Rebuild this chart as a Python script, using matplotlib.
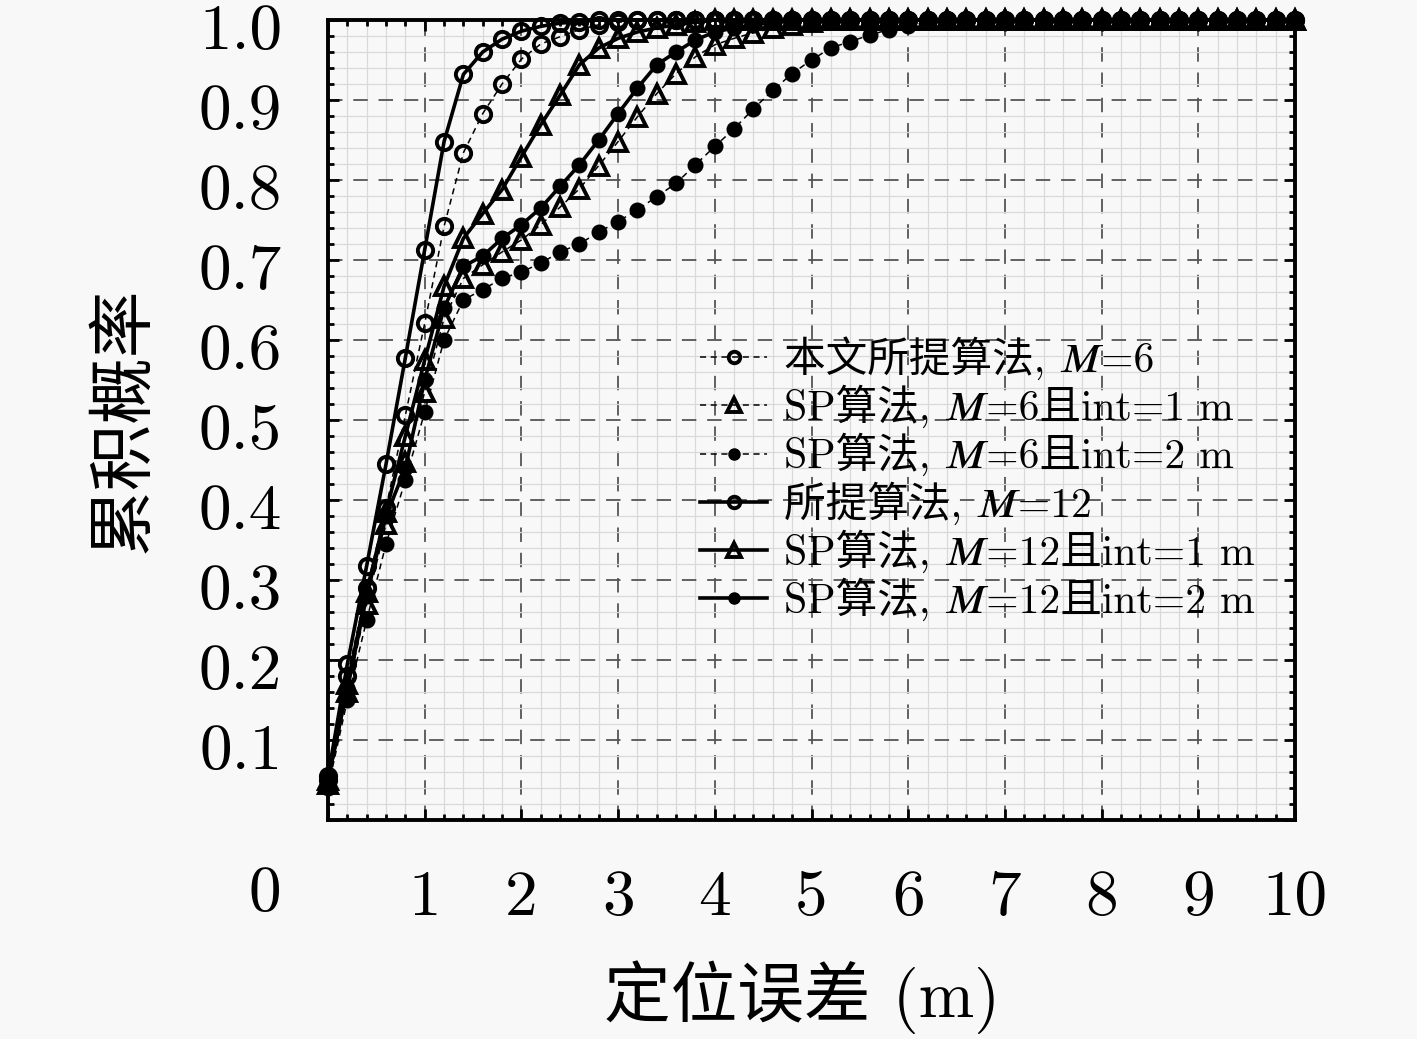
import matplotlib
matplotlib.use('Agg')
import matplotlib.pyplot as plt
import matplotlib.transforms as mtransforms
import numpy as np
from matplotlib.ticker import MultipleLocator

plt.rcParams['font.family'] = ['cmr10', 'Noto Sans CJK SC', 'STIXGeneral', 'DejaVu Serif', 'DejaVu Sans']
plt.rcParams['axes.formatter.use_mathtext'] = True

# error values (m), one marker every 0.2 m
err = np.round(np.arange(0, 10.01, 0.2), 1)
n = len(err)

# after the last listed value every curve stays at 1.0
ours_m6 = [0.05, 0.18, 0.29, 0.39, 0.506, 0.621, 0.742, 0.834, 0.883, 0.92,
           0.951, 0.97, 0.979, 0.988, 0.994, 0.997]
sp_m6_int1 = [0.045, 0.16, 0.27, 0.37, 0.447, 0.535, 0.627, 0.677, 0.694, 0.71,
              0.725, 0.744, 0.766, 0.789, 0.818, 0.848, 0.879, 0.908, 0.933, 0.954,
              0.969, 0.977, 0.984, 0.99, 0.994, 0.997]
sp_m6_int2 = [0.04, 0.15, 0.25, 0.345, 0.425, 0.51, 0.60, 0.65, 0.663, 0.677,
              0.685, 0.696, 0.71, 0.72, 0.735, 0.748, 0.763, 0.779, 0.796, 0.819,
              0.842, 0.864, 0.889, 0.912, 0.933, 0.95, 0.965, 0.973, 0.981, 0.988,
              0.993, 0.997]
ours_m12 = [0.055, 0.195, 0.318, 0.445, 0.578, 0.713, 0.848, 0.932, 0.96, 0.976,
            0.986, 0.992, 0.996, 0.998]
sp_m12_int1 = [0.05, 0.17, 0.285, 0.385, 0.48, 0.575, 0.667, 0.727, 0.758, 0.788,
               0.829, 0.869, 0.906, 0.944, 0.965, 0.977, 0.985, 0.99, 0.994, 0.997]
sp_m12_int2 = [0.05, 0.165, 0.28, 0.38, 0.44, 0.55, 0.64, 0.692, 0.705, 0.727,
               0.744, 0.765, 0.792, 0.819, 0.85, 0.883, 0.915, 0.944, 0.96, 0.975,
               0.985, 0.99, 0.994, 0.997]


def full(v):
    return v + [1.0] * (n - len(v))


labels = ['本文所提算法, 𝑀=6',
          'SP算法, 𝑀=6且int=1 m',
          'SP算法, 𝑀=6且int=2 m',
          '所提算法, 𝑀=12',
          'SP算法, 𝑀=12且int=1 m',
          'SP算法, 𝑀=12且int=2 m']
series = [ours_m6, sp_m6_int1, sp_m6_int2, ours_m12, sp_m12_int1, sp_m12_int2]

bg = '#f8f8f8'
fig = plt.figure(figsize=(14.17, 10.39), dpi=100, facecolor=bg)
ax = fig.add_axes([0.2315, 0.2108, 0.6824, 0.7700])
ax.set_facecolor(bg)

dash = (0, (4, 3))
styles = [
    dict(ls=dash, lw=1.1, marker='o', ms=11, mfc='none', mew=2.8),
    dict(ls=dash, lw=1.1, marker='^', ms=13, mfc='none', mew=2.8),
    dict(ls=dash, lw=1.1, marker='o', ms=10, mfc='k', mew=1.5),
    dict(ls='-', lw=2.6, marker='o', ms=11, mfc='none', mew=2.8),
    dict(ls='-', lw=2.6, marker='^', ms=13, mfc='none', mew=2.8),
    dict(ls='-', lw=2.6, marker='o', ms=10, mfc='k', mew=1.5),
]
for vals, lab, st in zip(series, labels, styles):
    ax.plot(err, full(vals), color='k', mec='k', label=lab, clip_on=False, **st)

ax.set_xlim(0, 10)
ax.set_ylim(0, 1)
ax.xaxis.set_major_locator(MultipleLocator(1))
ax.xaxis.set_minor_locator(MultipleLocator(0.2))
ax.yaxis.set_major_locator(MultipleLocator(0.1))
ax.yaxis.set_minor_locator(MultipleLocator(0.02))
ax.set_xticks(np.arange(0, 11))
ax.set_xticklabels([''] + [str(i) for i in range(1, 11)])
ax.set_yticks(np.round(np.arange(0, 1.01, 0.1), 1))
ax.set_yticklabels([''] + ['%.1f' % v for v in np.arange(0.1, 1.01, 0.1)])

ax.grid(which='minor', color='#d9d9d9', lw=0.9, ls='-')
ax.grid(which='major', color='#555555', lw=1.3, ls=(0, (8, 6)))
ax.set_axisbelow(True)

ax.tick_params(which='both', direction='in', top=True, right=True, width=2)
ax.tick_params(which='major', length=8, labelsize=47, pad=33)
ax.tick_params(which='minor', length=4)
ax.tick_params(axis='x', which='major', pad=36)
for s in ax.spines.values():
    s.set_linewidth(2.8)

# y tick labels sit a little below their ticks in the original
shift = mtransforms.ScaledTranslation(0, -7 / 100, fig.dpi_scale_trans)
for lab in ax.get_yticklabels():
    lab.set_transform(lab.get_transform() + shift)

ax.text(-0.065, -0.094, '0', transform=ax.transAxes, fontsize=47, ha='center', va='center')

ax.set_xlabel('定位误差 (m)', fontsize=48)
ax.xaxis.set_label_coords(0.49, -0.175)
ax.xaxis.label.set_va('top')
ax.set_ylabel('累积概率', fontsize=48)
ax.yaxis.set_label_coords(-0.178, 0.5)

ax.legend(loc='upper left', bbox_to_anchor=(0.385, 0.605), frameon=False, fontsize=30,
          handlelength=1.6, handletextpad=0.4, labelspacing=0.115, markerscale=0.75,
          borderpad=0, borderaxespad=0)

fig.savefig('out.png', dpi=100, facecolor=bg)
